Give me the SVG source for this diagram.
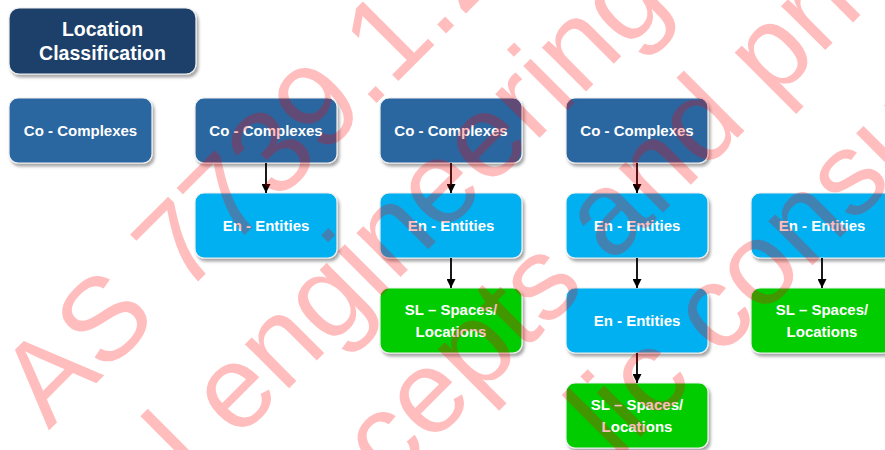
<svg xmlns="http://www.w3.org/2000/svg" width="885" height="450" viewBox="0 0 885 450">
  <defs>
    <filter id="shadow" x="-10%" y="-10%" width="125%" height="135%">
      <feDropShadow dx="2" dy="3" stdDeviation="1.8" flood-color="#000" flood-opacity="0.35"/>
    </filter>
    <marker id="arrow" viewBox="0 0 10 10" refX="10" refY="5" markerWidth="9" markerHeight="9" markerUnits="userSpaceOnUse" orient="auto">
      <path d="M0,0 L10,5 L0,10 z" fill="#000"/>
    </marker>
  </defs>
  <style>
    .box { stroke: #eeeeee; stroke-width: 1.2; filter: url(#shadow); }
    .title { fill: #1d4169; }
    .co { fill: #2b66a0; }
    .en { fill: #00b0f0; }
    .sl { fill: #00cc00; }
    .lbl { font-family: "Liberation Sans", Arial, sans-serif; font-weight: bold; font-size: 15px; fill: #ffffff; text-anchor: middle; }
    .ttl { font-size: 19.5px; }
    .conn line { stroke: #000; stroke-width: 1.8; marker-end: url(#arrow); }
    .wm { font-family: "Liberation Sans", Arial, sans-serif; font-size: 118px; fill: #ff0000; fill-opacity: 0.26; }
  </style>
  <rect width="885" height="450" fill="#ffffff"/>

  <!-- heading -->
  <g id="title">
    <rect class="box title" x="9" y="8" width="187" height="66" rx="10"/>
    <text class="lbl ttl" x="102.5" y="36">Location</text>
    <text class="lbl ttl" x="102.5" y="60">Classification</text>
  </g>

  <!-- column 1 -->
  <g id="co1">
    <rect class="box co" x="9" y="98" width="143" height="65" rx="9"/>
    <text class="lbl" x="80.5" y="136">Co - Complexes</text>
  </g>

  <!-- column 2 -->
  <g id="co2">
    <rect class="box co" x="195" y="98" width="142" height="65" rx="9"/>
    <text class="lbl" x="266" y="136">Co - Complexes</text>
  </g>
  <g id="en2">
    <rect class="box en" x="195" y="193" width="142" height="65" rx="9"/>
    <text class="lbl" x="266" y="231">En - Entities</text>
  </g>

  <!-- column 3 -->
  <g id="co3">
    <rect class="box co" x="380" y="98" width="142" height="65" rx="9"/>
    <text class="lbl" x="451" y="136">Co - Complexes</text>
  </g>
  <g id="en3">
    <rect class="box en" x="380" y="193" width="142" height="65" rx="9"/>
    <text class="lbl" x="451" y="231">En - Entities</text>
  </g>
  <g id="sl3">
    <rect class="box sl" x="380" y="288" width="142" height="65" rx="9"/>
    <text class="lbl" x="451" y="315">SL – Spaces/</text>
    <text class="lbl" x="451" y="337">Locations</text>
  </g>

  <!-- column 4 -->
  <g id="co4">
    <rect class="box co" x="566" y="98" width="142" height="65" rx="9"/>
    <text class="lbl" x="637" y="136">Co - Complexes</text>
  </g>
  <g id="en4a">
    <rect class="box en" x="566" y="193" width="142" height="65" rx="9"/>
    <text class="lbl" x="637" y="231">En - Entities</text>
  </g>
  <g id="en4b">
    <rect class="box en" x="566" y="288" width="142" height="65" rx="9"/>
    <text class="lbl" x="637" y="326">En - Entities</text>
  </g>
  <g id="sl4">
    <rect class="box sl" x="566" y="383" width="142" height="65" rx="9"/>
    <text class="lbl" x="637" y="410">SL – Spaces/</text>
    <text class="lbl" x="637" y="432">Locations</text>
  </g>

  <!-- column 5 -->
  <g id="en5">
    <rect class="box en" x="751" y="193" width="142" height="65" rx="9"/>
    <text class="lbl" x="822" y="231">En - Entities</text>
  </g>
  <g id="sl5">
    <rect class="box sl" x="751" y="288" width="142" height="65" rx="9"/>
    <text class="lbl" x="822" y="315">SL – Spaces/</text>
    <text class="lbl" x="822" y="337">Locations</text>
  </g>

  <!-- connectors -->
  <g id="connectors" class="conn">
    <line x1="266" y1="163" x2="266" y2="193"/>
    <line x1="451" y1="163" x2="451" y2="193"/>
    <line x1="451" y1="258" x2="451" y2="288"/>
    <line x1="637" y1="163" x2="637" y2="193"/>
    <line x1="637" y1="258" x2="637" y2="288"/>
    <line x1="637" y1="353" x2="637" y2="383"/>
    <line x1="822" y1="258" x2="822" y2="288"/>
  </g>

  <!-- diagonal watermark over the whole drawing -->
  <g id="watermark" class="wm" transform="rotate(-45)">
    <text x="-270" y="339">AS 7739.1.2</text>
    <text x="-203" y="479">l engineering</text>
    <text x="-70" y="619">cepts and pri</text>
    <text x="110" y="762">lic consu</text>
  </g>
</svg>
